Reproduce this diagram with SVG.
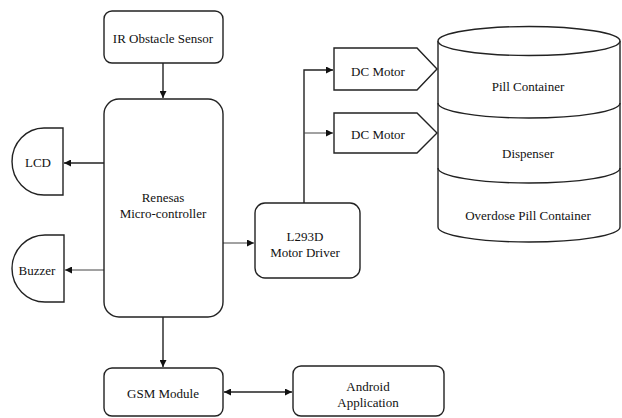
<svg xmlns="http://www.w3.org/2000/svg" width="622" height="418" viewBox="0 0 622 418" font-family="Liberation Serif, Times New Roman, serif">
  <style>
    .box { fill: #fff; stroke: #222; stroke-width: 1.4; }
    .lbl { font-size: 13px; fill: #111; text-anchor: middle; }
    .wire { fill: none; stroke: #222; stroke-width: 1.4; }
    .thin { fill: none; stroke: #444; stroke-width: 1; }
  </style>
  <defs>
    <marker id="arr" viewBox="0 0 10 10" refX="10" refY="5" markerWidth="7" markerHeight="7" markerUnits="userSpaceOnUse" orient="auto-start-reverse">
      <path d="M0,0 L10,5 L0,10 Z" fill="#111"/>
    </marker>
  </defs>

  <g id="connectors">
    <line class="wire" x1="163" y1="63" x2="163" y2="98" marker-end="url(#arr)"/>
    <line class="wire" x1="104" y1="163" x2="64" y2="163" marker-end="url(#arr)"/>
    <line class="thin" x1="104" y1="270" x2="65" y2="270" marker-end="url(#arr)"/>
    <line class="thin" x1="223" y1="243" x2="254" y2="243" marker-end="url(#arr)"/>
    <polyline class="wire" points="304,203 304,70 333,70" marker-end="url(#arr)"/>
    <line class="thin" x1="304" y1="133" x2="333" y2="133" marker-end="url(#arr)"/>
    <line class="wire" x1="163" y1="317" x2="163" y2="367" marker-end="url(#arr)"/>
    <line class="wire" x1="224" y1="392" x2="292" y2="392" marker-start="url(#arr)" marker-end="url(#arr)"/>
  </g>

  <g id="ir-sensor">
    <rect class="box" x="104" y="11" width="119" height="52" rx="8"/>
    <text class="lbl" x="163" y="43">IR Obstacle Sensor</text>
  </g>

  <g id="renesas">
    <rect class="box" x="104" y="99" width="119" height="218" rx="15"/>
    <text class="lbl" x="163" y="202">Renesas</text>
    <text class="lbl" x="163" y="218">Micro-controller</text>
  </g>

  <g id="lcd">
    <path class="box" d="M63,128 L63,195 L44,195 A32,33.5 0 0 1 44,128 Z"/>
    <text class="lbl" x="38" y="167">LCD</text>
  </g>

  <g id="buzzer">
    <path class="box" d="M64,235 L64,302 L45,302 A33,33.5 0 0 1 45,235 Z"/>
    <text class="lbl" x="37" y="275">Buzzer</text>
  </g>

  <g id="l293d">
    <rect class="box" x="255" y="203" width="105" height="75" rx="10"/>
    <text class="lbl" x="305" y="241">L293D</text>
    <text class="lbl" x="305" y="257">Motor Driver</text>
  </g>

  <g id="dc-motor-1">
    <path class="box" d="M334,48 L417,48 L437,69 L417,90 L334,90 Z"/>
    <text class="lbl" x="378" y="76">DC Motor</text>
  </g>

  <g id="dc-motor-2">
    <path class="box" d="M334,113 L417,113 L437,133 L417,153 L334,153 Z"/>
    <text class="lbl" x="378" y="139">DC Motor</text>
  </g>

  <g id="cylinder">
    <path class="box" d="M438,41 L438,227 A91,15 0 0 0 620,227 L620,41"/>
    <ellipse class="box" cx="529" cy="41" rx="91" ry="14.5"/>
    <path class="wire" d="M438,103 A91,15 0 0 0 620,103"/>
    <path class="wire" d="M438,168 A91,15 0 0 0 620,168"/>
    <text class="lbl" x="528" y="91">Pill Container</text>
    <text class="lbl" x="528" y="158">Dispenser</text>
    <text class="lbl" x="528" y="220">Overdose Pill Container</text>
  </g>

  <g id="gsm">
    <rect class="box" x="104" y="368" width="119" height="48" rx="8"/>
    <text class="lbl" x="163" y="398">GSM Module</text>
  </g>

  <g id="android">
    <rect class="box" x="293" y="366" width="151" height="50" rx="8"/>
    <text class="lbl" x="368" y="391">Android</text>
    <text class="lbl" x="368" y="407">Application</text>
  </g>
</svg>
